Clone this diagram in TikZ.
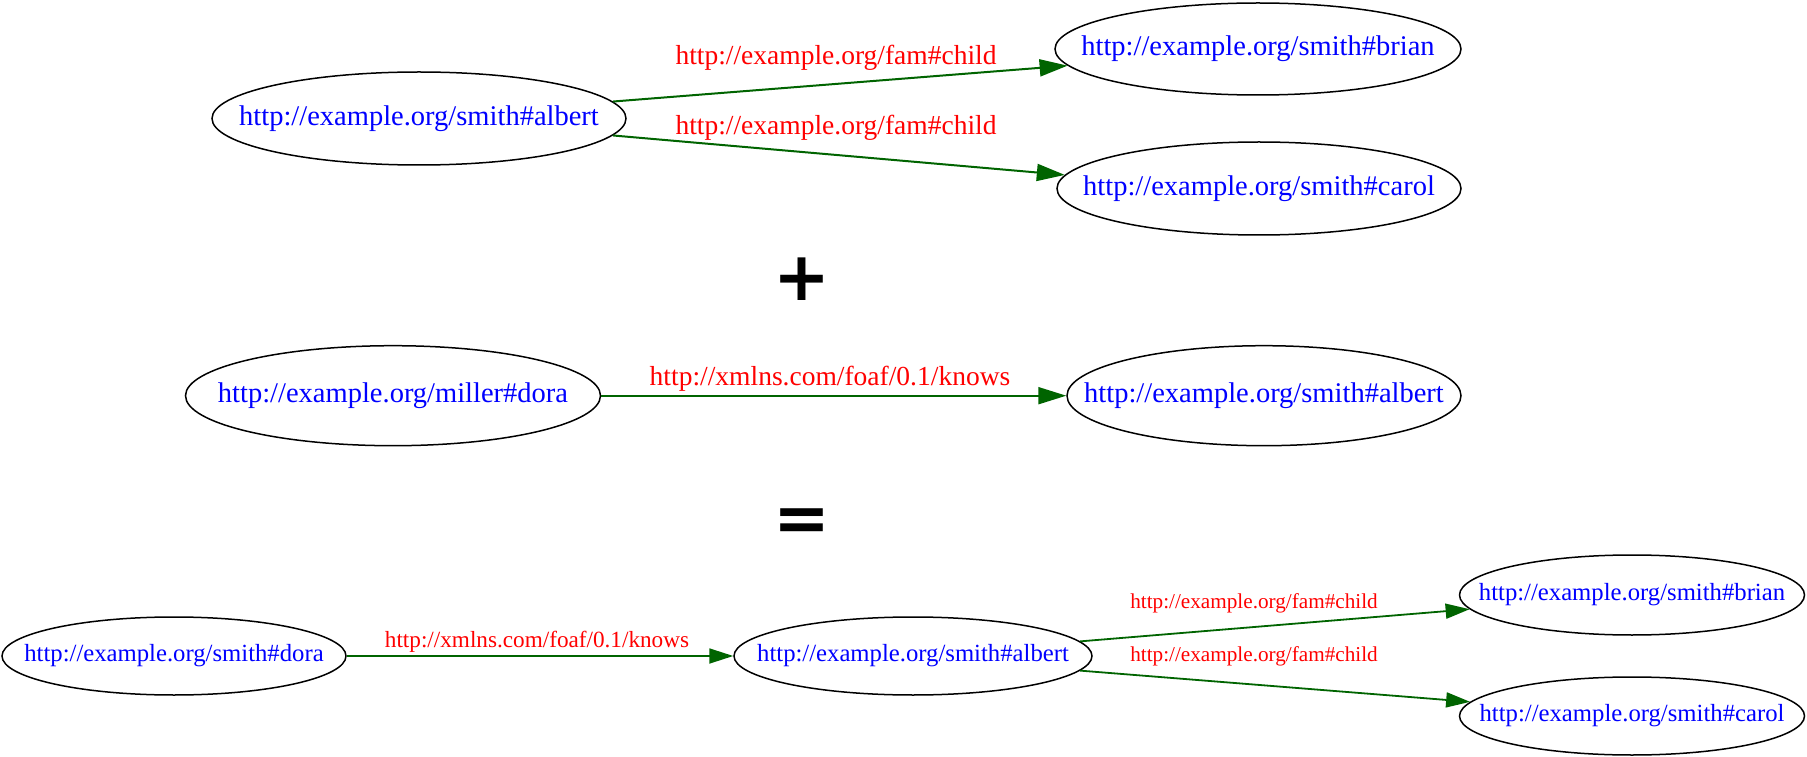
\documentclass[tikz,border=0pt]{standalone}
\usepackage{fontspec}
\setmainfont{Liberation Serif}
\newfontfamily\opfont{DejaVu Sans}
\usetikzlibrary{shapes.geometric,arrows.meta}
\definecolor{edgegreen}{RGB}{0,100,0}
\definecolor{uriblue}{RGB}{0,0,255}
\definecolor{propred}{RGB}{255,0,0}
% a zero-width box keeps the ellipse size fixed by minimum width/height
\newcommand{\restext}[1]{\makebox[0pt]{#1}}
\tikzset{
  res/.style={ellipse, draw=black, line width=1.5pt, inner sep=0pt, text=uriblue},
  bigres/.style={res, font=\fontsize{28.5}{30}\selectfont},
  smallres/.style={res, font=\fontsize{24.7}{26}\selectfont},
  prop/.style={text=propred, inner sep=0pt},
  bigprop/.style={prop, font=\fontsize{27.5}{29}\selectfont},
  smallprop/.style={prop, font=\fontsize{21.2}{23}\selectfont},
  knowsprop/.style={prop, font=\fontsize{23.2}{25}\selectfont},
  bigrel/.style={draw=edgegreen, line width=2pt, -{Triangle[length=28pt,width=17pt,fill=edgegreen]}},
  smallrel/.style={draw=edgegreen, line width=1.8pt, -{Triangle[length=24pt,width=15pt,fill=edgegreen]}},
  op/.style={inner sep=0pt, font=\opfont\bfseries\fontsize{68}{68}\selectfont}
}
\begin{document}
\begin{tikzpicture}[x=1pt,y=1pt]
\useasboundingbox (0,0) rectangle (1807,756);

% first graph
\node[bigres, minimum width=414pt, minimum height=93pt] (a1) at (419,637.5) {\restext{http://example.org/smith\#albert}};
\node[bigres, minimum width=406pt, minimum height=92pt] (b1) at (1258,707) {\restext{http://example.org/smith\#brian}};
\node[bigres, minimum width=404pt, minimum height=93pt] (c1) at (1259,567.5) {\restext{http://example.org/smith\#carol}};
\draw[bigrel] (a1.5) -- (b1.185);
\draw[bigrel] (a1.-5) -- (c1.176);
\node[bigprop] (l1) at (836,698) {http://example.org/fam\#child};
\node[bigprop] (l2) at (836,628) {http://example.org/fam\#child};

\node[op] (plus) at (802,477) {+};

% second graph
\node[bigres, minimum width=415pt, minimum height=100pt] (d2) at (393,360.3) {\restext{http://example.org/miller\#dora}};
\node[bigres, minimum width=394pt, minimum height=100pt] (a2) at (1264,360.3) {\restext{http://example.org/smith\#albert}};
\draw[bigrel] (d2.east) -- (a2.west);
\node[bigprop] (l3) at (830,377) {http://xmlns.com/foaf/0.1/knows};

\node[op] (equals) at (802,231) {=};

% merged graph
\node[smallres, minimum width=344pt, minimum height=78pt] (d3) at (174,100) {\restext{http://example.org/smith\#dora}};
\node[smallres, minimum width=358pt, minimum height=78pt] (a3) at (913,100) {\restext{http://example.org/smith\#albert}};
\node[smallres, minimum width=345pt, minimum height=80pt] (b3) at (1632,161) {\restext{http://example.org/smith\#brian}};
\node[smallres, minimum width=345pt, minimum height=78pt] (c3) at (1632,40) {\restext{http://example.org/smith\#carol}};
\draw[smallrel] (d3.east) -- (a3.west);
\draw[smallrel] (a3.5) -- (b3.185);
\draw[smallrel] (a3.-5) -- (c3.175);
\node[knowsprop] (l4) at (537,114) {http://xmlns.com/foaf/0.1/knows};
\node[smallprop] (l5) at (1254,153) {http://example.org/fam\#child};
\node[smallprop] (l6) at (1254,100) {http://example.org/fam\#child};
\end{tikzpicture}
\end{document}
